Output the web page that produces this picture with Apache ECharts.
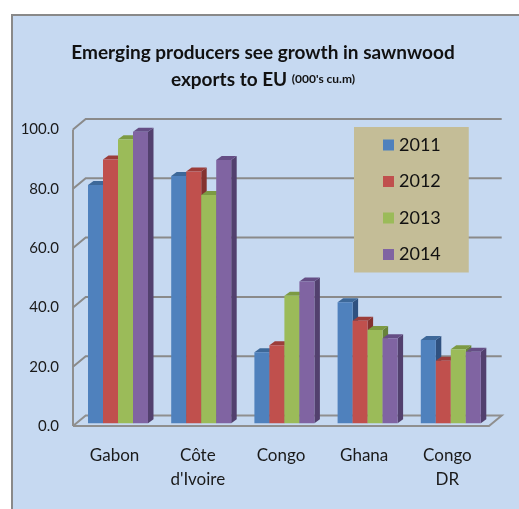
<!DOCTYPE html>
<html><head><meta charset="utf-8">
<script src="https://cdn.jsdelivr.net/npm/echarts@6/dist/echarts.min.js"></script>
<style>html,body{margin:0;padding:0;background:#fff}#c{width:519px;height:509px}</style>
</head><body><div id="c"></div>
<script>
const categories = ['Gabon', 'Côte\nd\'Ivoire', 'Congo', 'Ghana', 'Congo\nDR'];
const years = ['2011', '2012', '2013', '2014'];
const v2011 = [80.4, 83.4, 24.0, 40.8, 28.1];
const v2012 = [89.0, 84.9, 26.3, 34.6, 21.1];
const v2013 = [95.8, 77.0, 43.0, 31.5, 25.0];
const v2014 = [98.3, 88.8, 47.8, 28.7, 24.1];
const yTicks = [0, 20, 40, 60, 80, 100];

const seriesValues = [v2011, v2012, v2013, v2014];
const fronts = ['#4f81bd', '#c0504d', '#9bbb59', '#8064a2'];
const tops = ['#3d6899', '#9c3d3a', '#7c9a43', '#654e85'];
const sides = ['#2f5180', '#843230', '#67823a', '#52406e'];

const FONT = 'Lato';
const DX = 12.7, DY = -10.5;      // wall depth
const BW = 15;                    // bar width
const SX = 3.4, SY = -2.7;        // bar position inside depth
const BDX = 5.5, BDY = -4;        // bar depth

const chart = echarts.init(document.getElementById('c'), null, {renderer: 'canvas'});

function barRender(k) {
  return function (params, api) {
    const i = api.value(0), v = api.value(1);
    const top = api.coord([i, v]);
    const base = api.coord([i, 0]);
    const x0 = top[0] - 2 * BW + SX + k * BW;
    const yt = top[1] + SY, yb = base[1] + SY;
    return {
      type: 'group',
      children: [
        {type: 'polygon', shape: {points: [[x0 + BW, yt], [x0 + BW + BDX, yt + BDY], [x0 + BW + BDX, yb + BDY], [x0 + BW, yb]]},
         style: {fill: sides[k]}},
        {type: 'polygon', shape: {points: [[x0, yt], [x0 + BW, yt], [x0 + BW + BDX, yt + BDY], [x0 + BDX, yt + BDY]]},
         style: {fill: tops[k]}},
        {type: 'rect', shape: {x: x0, y: yt, width: BW, height: yb - yt},
         style: {fill: fronts[k]}}
      ]
    };
  };
}

function wallRender(params, api) {
  const t = api.value(1);
  const cs = params.coordSys;
  const xL = cs.x, xR = cs.x + cs.width;
  const y = api.coord([0, t])[1];
  const children = [];
  if (t === 0) {
    children.push({type: 'polyline', shape: {points: [[xL, y], [xR, y], [xR + DX, y + DY], [xL + DX, y + DY], [xL, y]]},
      style: {stroke: '#8f8f8f', lineWidth: 2, fill: null}});
    children.push({type: 'line', shape: {x1: xL, y1: y, x2: xL, y2: api.coord([0, 100])[1]},
      style: {stroke: '#8f8f8f', lineWidth: 2}});
  } else {
    children.push({type: 'polyline', shape: {points: [[xL, y], [xL + DX, y + DY], [xR + DX, y + DY]]},
      style: {stroke: '#8a8a8a', lineWidth: 2, fill: null}});
  }
  return {type: 'group', children};
}

const series = [{
  type: 'custom', name: 'wall', silent: true, z: 1,
  renderItem: wallRender,
  data: yTicks.map(t => [0, t]),
  encode: {x: 0, y: 1}
}];
seriesValues.forEach((vals, k) => {
  series.push({
    type: 'custom', name: years[k], z: 3 + k,
    itemStyle: {color: fronts[k]},
    renderItem: barRender(k),
    data: vals.map((v, i) => [i, v]),
    encode: {x: 0, y: 1}
  });
});

chart.setOption({
  animation: false,
  backgroundColor: '#ffffff',
  graphic: [{
    type: 'rect', z: -10, shape: {x: 12, y: 15, width: 530, height: 520},
    style: {fill: '#c6d9f1', stroke: '#898989', lineWidth: 2}
  }],
  title: {
    left: 258, top: 34, textAlign: 'center',
    text: '{a|Emerging producers see growth in sawnwood}\n{a|exports to EU }{b|(000\'s cu.m)}',
    textStyle: {
      rich: {
        a: {fontFamily: FONT, fontSize: 19, fontWeight: 'bold', color: '#111', lineHeight: 27},
        b: {fontFamily: FONT, fontSize: 12, fontWeight: 'bold', color: '#111', lineHeight: 27}
      }
    }
  },
  legend: {
    orient: 'vertical', left: 354, top: 127,
    backgroundColor: '#c4bd97',
    padding: [8, 28, 8, 29],
    itemWidth: 11, itemHeight: 11, itemGap: 16.5,
    icon: 'rect',
    data: years,
    textStyle: {fontFamily: FONT, fontSize: 18, color: '#111', lineHeight: 20, padding: [0, 0, 0, 0]}
  },
  grid: {left: 73, right: 30, top: 129.5, bottom: 83, containLabel: false},
  xAxis: {
    type: 'category', data: categories,
    axisLine: {show: false}, axisTick: {show: false},
    axisLabel: {fontFamily: FONT, fontSize: 17, color: '#1a1a1a', margin: 18, lineHeight: 24, interval: 0}
  },
  yAxis: {
    type: 'value', min: 0, max: 100, interval: 20,
    axisLine: {show: false}, axisTick: {show: false}, splitLine: {show: false},
    axisLabel: {fontFamily: FONT, fontSize: 15, color: '#1a1a1a', margin: 14, formatter: v => v.toFixed(1)}
  },
  series
});
</script></body></html>
